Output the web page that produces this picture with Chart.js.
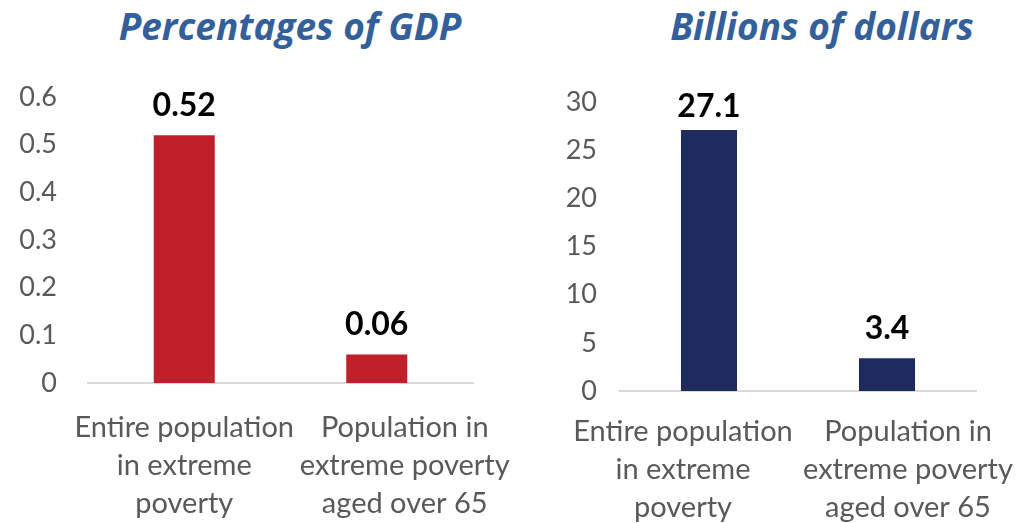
<!DOCTYPE html>
<html>
<head>
<meta charset="utf-8">
<script src="https://cdn.jsdelivr.net/npm/chart.js@4"></script>
<style>
  html, body { margin: 0; padding: 0; background: #fff; overflow: hidden; }
  body { width: 1023px; height: 523px; position: relative; }
  .titulo {
    position: absolute; top: 0; text-align: center; white-space: nowrap;
    font-family: 'Open Sans', sans-serif; font-weight: 700; font-style: italic;
    font-size: 37px; color: #33609a; line-height: 52px;
  }
  #t-pib { left: 40px; width: 500px; }
  #t-usd { left: 572px; width: 500px; }
  canvas { position: absolute; top: 0; }
  #chartPib { left: 0; }
  #chartUsd { left: 510px; }
</style>
</head>
<body>
<div class="titulo" id="t-pib">Percentages of GDP</div>
<div class="titulo" id="t-usd">Billions of dollars</div>
<canvas id="chartPib" width="540" height="523"></canvas>
<canvas id="chartUsd" width="513" height="527"></canvas>

<script>
/* ── Datos ─────────────────────────────────────────────────────────────── */
const categorias = [
  ['Entire population', 'in extreme', 'poverty'],
  ['Population in', 'extreme poverty', 'aged over 65']
];
const valoresPib = [0.52, 0.06];
const valoresUsd = [27.1, 3.4];
const ticksPib = [0, 0.1, 0.2, 0.3, 0.4, 0.5, 0.6];
const ticksUsd = [0, 5, 10, 15, 20, 25, 30];

const GRIS = '#595959';

/* ── Etiquetas de valor sobre cada barra ──────────────────────────────── */
const etiquetasValor = {
  id: 'etiquetasValor',
  afterDatasetsDraw(chart) {
    const ctx = chart.ctx;
    const meta = chart.getDatasetMeta(0);
    const datos = chart.data.datasets[0].data;
    ctx.save();
    ctx.font = 'bold 32px Lato, sans-serif';
    ctx.fillStyle = '#000';
    ctx.textAlign = 'center';
    ctx.textBaseline = 'alphabetic';
    meta.data.forEach((bar, i) => {
      const y = Math.max(bar.y - 19, chart.chartArea.top + 15);
      ctx.fillText(String(datos[i]), bar.x, y);
    });
    ctx.restore();
  }
};

/* ── Etiquetas de categoría (varias líneas, desplazadas para no chocar) ─ */
const etiquetasCategoria = {
  id: 'etiquetasCategoria',
  afterDraw(chart, args, opts) {
    const ctx = chart.ctx;
    const x = chart.scales.x;
    ctx.save();
    ctx.font = '29px Lato, sans-serif';
    ctx.fillStyle = GRIS;
    ctx.textAlign = 'center';
    ctx.textBaseline = 'middle';
    chart.data.labels.forEach((lineas, i) => {
      const cx = x.getPixelForTick(i) + opts.desplazamiento[i];
      lineas.forEach((txt, j) => {
        ctx.fillText(txt, cx, x.top + opts.margen + j * opts.interlineado);
      });
    });
    ctx.restore();
  }
};

function crearGrafico(id, valores, ticks, color, o) {
  const ctx = document.getElementById(id).getContext('2d');
  return new Chart(ctx, {
    type: 'bar',
    data: {
      labels: categorias,
      datasets: [{
        data: valores,
        backgroundColor: color,
        borderWidth: 0,
        barPercentage: o.barPct,
        categoryPercentage: 1
      }]
    },
    options: {
      responsive: false,
      animation: false,
      layout: { padding: { top: o.top, right: o.right, left: 0, bottom: 0 } },
      plugins: {
        legend: { display: false },
        tooltip: { enabled: false },
        etiquetasCategoria: { desplazamiento: o.shift, margen: o.xMargen, interlineado: 38 }
      },
      scales: {
        x: {
          grid: { display: false, drawTicks: false },
          border: { display: true, color: '#d9d9d9', width: 2 },
          ticks: { display: false },
          afterFit: s => { s.height = o.xHeight; }
        },
        y: {
          min: ticks[0],
          max: ticks[ticks.length - 1],
          afterBuildTicks: s => { s.ticks = ticks.map(v => ({ value: v })); },
          afterFit: s => { s.width = o.yWidth; },
          grid: { display: false, drawTicks: false },
          border: { display: false },
          ticks: {
            color: GRIS, padding: o.yPad,
            font: { family: 'Lato', size: 27 },
            callback: v => String(v)
          }
        }
      }
    },
    plugins: [etiquetasValor, etiquetasCategoria]
  });
}

crearGrafico('chartPib', valoresPib, ticksPib, '#c0202a', {
  top: 97, right: 67, yWidth: 88, yPad: 31, xHeight: 140, xMargen: 45,
  shift: [0, 28], barPct: 0.317
});
crearGrafico('chartUsd', valoresUsd, ticksUsd, '#1f2a5e', {
  top: 102, right: 47, yWidth: 110, yPad: 23, xHeight: 136, xMargen: 41,
  shift: [-26, 21], barPct: 0.315
});
</script>
</body>
</html>
